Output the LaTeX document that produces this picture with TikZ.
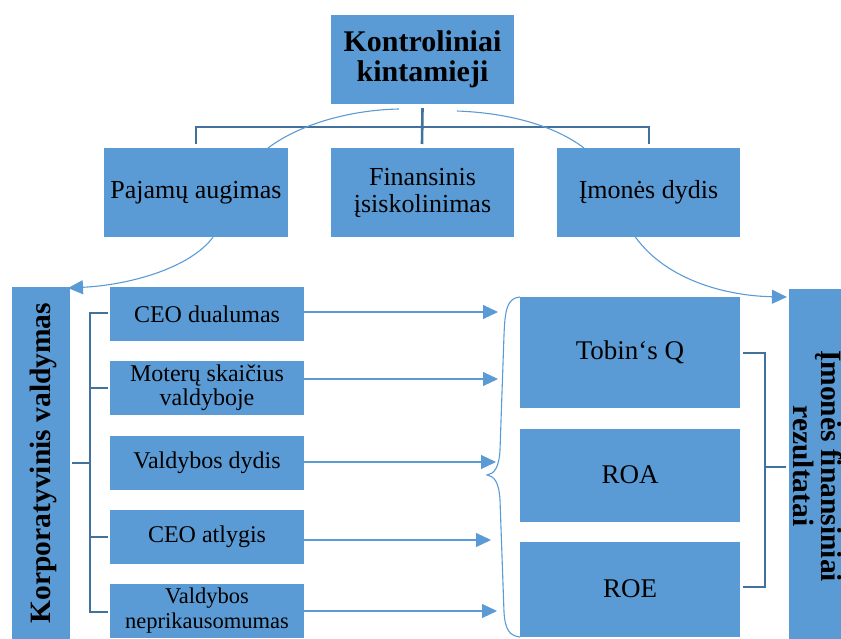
\documentclass[tikz,border=0pt]{standalone}
\usepackage{fontspec}
\setmainfont{Liberation Serif}
\usetikzlibrary{arrows.meta}
\definecolor{boxblue}{HTML}{5B9BD5}
\definecolor{treeblue}{HTML}{41719C}
\tikzset{
  box/.style={fill=boxblue, draw=none, rectangle, inner sep=1pt, align=center, text=black},
  tree/.style={draw=treeblue, line width=2.6pt},
  thinarc/.style={draw=boxblue, line width=1.1pt},
  arr/.style={draw=boxblue, line width=1.1pt, -{Triangle[length=15pt,width=14pt]}},
}
\begin{document}
\begin{tikzpicture}[x=1pt,y=-1pt]
\useasboundingbox (0,0) rectangle (841,639);
\clip (0,0) rectangle (841,639);
% top
\node[box, minimum width=183pt, minimum height=89pt, font=\fontsize{30}{30}\selectfont\bfseries] (top) at (422.5,59.5) {Kontroliniai\\kintamieji};
% middle row
\node[box, minimum width=184pt, minimum height=89pt, font=\fontsize{26}{27}\selectfont] (paj) at (196,192.5) {Pajamų augimas};
\node[box, minimum width=183pt, minimum height=89pt, font=\fontsize{26}{27}\selectfont] (fin) at (422.5,192.5) {Finansinis\\įsiskolinimas};
\node[box, minimum width=183pt, minimum height=89pt, font=\fontsize{26}{27}\selectfont] (imd) at (648.5,192.5) {Įmonės dydis};
% tree
\draw[tree] (top.south) ++(0,4) -- (422,144);
\draw[tree] (196,144) -- (196,127) -- (649,127) -- (649,144);
% arcs
\draw[thinarc] (268,148) .. controls (300,124) and (350,110) .. (399,109);
\draw[thinarc] (457,111) .. controls (510,113) and (555,126) .. (584,148);
% left big box
\node[box, minimum width=58pt, minimum height=360pt] (kv) at (41,467) {};
\node[rotate=90, font=\fontsize{29.5}{30}\selectfont\bfseries] (kvt) at (43,463) {Korporatyvinis valdymas};
% right big box
\node[box, minimum width=80pt, minimum height=360pt] (ifr) at (829,469) {};
\node[rotate=-90, align=center, font=\fontsize{29.5}{26}\selectfont\bfseries] (ifrt) at (818,466) {Įmonės finansiniai\\rezultatai};
% curved arrows
\draw[arr] (paj.south) ++(17,0) .. controls (190,268) and (130,285) .. (68,288);
\draw[arr] (imd.south) ++(-13,0) .. controls (668,282) and (730,296) .. (787,297);
% left items
\tikzset{item/.style={box, minimum width=194pt, minimum height=54pt, font=\fontsize{24}{24}\selectfont}}
\node[item] (c1) at (207,314) {CEO dualumas};
\node[item] (c2) at (207,388) {Moterų skaičius\\valdyboje};
\node[item] (c3) at (207,463) {Valdybos dydis};
\node[item] (c4) at (207,537) {CEO atlygis};
\node[item, font=\fontsize{22.5}{25}\selectfont] (c5) at (207,611) {Valdybos\\neprikausomumas};
% left bracket
\draw[tree] (72,463) -- (90,463);
\draw[tree] (108,313) -- (90,313) -- (90,612) -- (108,612);
\draw[tree] (90,388) -- (108,388);
\draw[tree] (90,537) -- (108,537);
% right items
\tikzset{ritem/.style={box, minimum width=220pt, font=\fontsize{27}{28}\selectfont}}
\node[ritem, minimum height=111pt] (tq) at (630,352.5) {Tobin‘s Q};
\node[ritem, minimum height=93pt] (roa) at (630,475) {ROA};
\node[ritem, minimum height=95pt] (roe) at (630,589) {ROE};
% arrows to brace
\coordinate (e1) at (498,312);
\coordinate (e2) at (498,379);
\coordinate (e3) at (496,462);
\coordinate (e4) at (491,540);
\coordinate (e5) at (497,611);
\draw[arr] (c1.east |- 0,312) -- (e1);
\draw[arr] (c2.east |- 0,379) -- (e2);
\draw[arr] (c3.east |- 0,462) -- (e3);
\draw[arr] (c4.east |- 0,540) -- (e4);
\draw[arr] (c5.east |- 0,611) -- (e5);
% brace
\draw[thinarc] (520,297) .. controls (507,298) and (505,310) .. (504,335)
  -- (500,450) .. controls (499,468) and (494,474) .. (487,475)
  .. controls (494,476) and (499,482) .. (500,500)
  -- (504,612) .. controls (505,630) and (510,636) .. (520,637);
% right bracket
\draw[tree] (743,353) -- (765,353) -- (765,587) -- (743,587);
\draw[tree] (765,467) -- (786,467);
\end{tikzpicture}
\end{document}
